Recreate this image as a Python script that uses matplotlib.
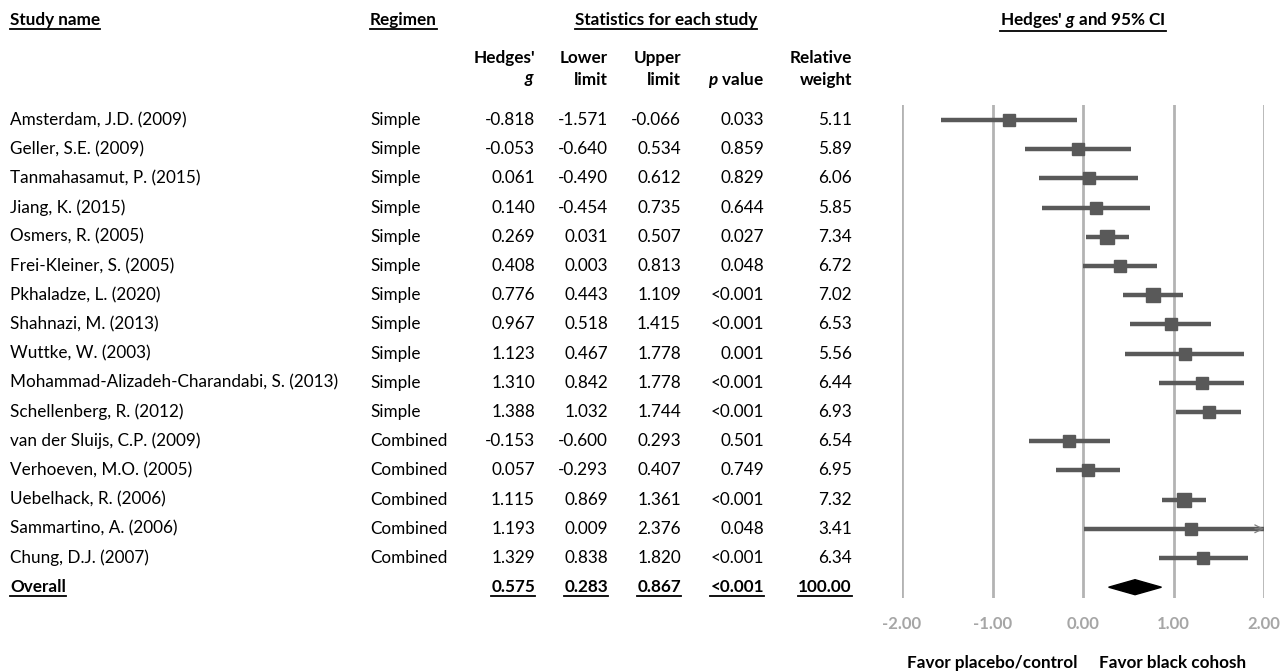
import matplotlib
matplotlib.use("Agg")
import matplotlib.pyplot as plt
from matplotlib.lines import Line2D
from matplotlib.patches import Polygon
import matplotlib.transforms as mtransforms

plt.rcParams['font.family'] = ['Lato', 'DejaVu Sans']
plt.rcParams['mathtext.fontset'] = 'custom'
plt.rcParams['mathtext.it'] = 'Lato:italic:bold'
plt.rcParams['mathtext.rm'] = 'Lato:bold'
plt.rcParams['mathtext.bf'] = 'Lato:bold'

studies = ["Amsterdam, J.D. (2009)", "Geller, S.E. (2009)", "Tanmahasamut, P. (2015)",
           "Jiang, K. (2015)", "Osmers, R. (2005)", "Frei-Kleiner, S. (2005)",
           "Pkhaladze, L. (2020)", "Shahnazi, M. (2013)", "Wuttke, W. (2003)",
           "Mohammad-Alizadeh-Charandabi, S. (2013)", "Schellenberg, R. (2012)",
           "van der Sluijs, C.P. (2009)", "Verhoeven, M.O. (2005)", "Uebelhack, R. (2006)",
           "Sammartino, A. (2006)", "Chung, D.J. (2007)"]
regimen = ["Simple"] * 11 + ["Combined"] * 5
g = [-0.818, -0.053, 0.061, 0.140, 0.269, 0.408, 0.776, 0.967, 1.123, 1.310, 1.388,
     -0.153, 0.057, 1.115, 1.193, 1.329]
lower = [-1.571, -0.640, -0.490, -0.454, 0.031, 0.003, 0.443, 0.518, 0.467, 0.842, 1.032,
         -0.600, -0.293, 0.869, 0.009, 0.838]
upper = [-0.066, 0.534, 0.612, 0.735, 0.507, 0.813, 1.109, 1.415, 1.778, 1.778, 1.744,
         0.293, 0.407, 1.361, 2.376, 1.820]
pval = ["0.033", "0.859", "0.829", "0.644", "0.027", "0.048", "<0.001", "<0.001", "0.001",
        "<0.001", "<0.001", "0.501", "0.749", "<0.001", "0.048", "<0.001"]
weight = [5.11, 5.89, 6.06, 5.85, 7.34, 6.72, 7.02, 6.53, 5.56, 6.44, 6.93,
          6.54, 6.95, 7.32, 3.41, 6.34]
overall_g, overall_lo, overall_hi = 0.575, 0.283, 0.867
overall_p, overall_w = "<0.001", "100.00"
xticks = [-2, -1, 0, 1, 2]
xticklabels = ["-2.00", "-1.00", "0.00", "1.00", "2.00"]

W, H = 1281, 672
fig = plt.figure(figsize=(W / 100, H / 100), dpi=100)

# forest axes
x0, x1 = 902, 1264
ytop, ybot = 105, 598
row0, rowstep = 120, 29.2
ax = fig.add_axes([x0 / W, 1 - ybot / H, (x1 - x0) / W, (ybot - ytop) / H])
n = len(studies)
ax.set_xlim(-2, 2)
ax.set_ylim((ybot - row0) / rowstep, (ytop - row0) / rowstep)
ax.axis('off')
for t in xticks:
    ax.axvline(t, color='#b3b3b3', lw=2, zorder=0)

dark = '#595959'
for i in range(n):
    hi = min(upper[i], 2.0)
    ax.plot([lower[i], hi], [i, i], color=dark, lw=3.2, solid_capstyle='butt', zorder=2)
    size = 9.5 + 0.5 * weight[i]
    ax.plot(g[i], i, marker='s', ms=size * 0.72, color=dark, mec=dark, zorder=3)
    if upper[i] > 2.0:
        ax.annotate('', xy=(2.0, i), xytext=(1.9, i),
                    arrowprops=dict(arrowstyle='->', color='#7f7f7f', lw=0.9,
                                    mutation_scale=14, shrinkA=0, shrinkB=0), zorder=4)

yo = n
dh = 7.5 / rowstep
ax.add_patch(Polygon([[overall_lo, yo], [overall_g, yo - dh], [overall_hi, yo], [overall_g, yo + dh]],
                     closed=True, color='black', zorder=3))

# tick labels
for t, lab in zip(xticks, xticklabels):
    fig.text((x0 + (t + 2) / 4 * (x1 - x0)) / W, 1 - 624 / H, lab, ha='center', va='center',
             fontsize=12, color='#a6a6a6', fontweight='bold')

fs = 12.3
trans = mtransforms.blended_transform_factory(fig.transFigure, ax.transData)

col_name = 10 / W
col_reg = 370 / W
col_g = 535 / W
col_lo = 608 / W
col_hi = 681 / W
col_p = 764 / W
col_w = 852 / W

for i in range(n):
    fig.text(col_name, i, studies[i], transform=trans, ha='left', va='center', fontsize=fs)
    fig.text(col_reg, i, regimen[i], transform=trans, ha='left', va='center', fontsize=fs)
    fig.text(col_g, i, f"{g[i]:.3f}", transform=trans, ha='right', va='center', fontsize=fs)
    fig.text(col_lo, i, f"{lower[i]:.3f}", transform=trans, ha='right', va='center', fontsize=fs)
    fig.text(col_hi, i, f"{upper[i]:.3f}", transform=trans, ha='right', va='center', fontsize=fs)
    fig.text(col_p, i, pval[i], transform=trans, ha='right', va='center', fontsize=fs)
    fig.text(col_w, i, f"{weight[i]:.2f}", transform=trans, ha='right', va='center', fontsize=fs)

underlined = []
underlined.append(fig.text(col_name, n, "Overall", transform=trans, ha='left', va='center', fontsize=fs, fontweight='bold'))
for c, s in [(col_g, f"{overall_g:.3f}"), (col_lo, f"{overall_lo:.3f}"), (col_hi, f"{overall_hi:.3f}"),
             (col_p, overall_p), (col_w, overall_w)]:
    underlined.append(fig.text(c, n, s, transform=trans, ha='right', va='center', fontsize=fs, fontweight='bold'))

# headers
def ftxt(x, y, s, **kw):
    return fig.text(x / W, 1 - y / H, s, fontsize=fs, fontweight='bold', va='center', **kw)

underlined.append(ftxt(10, 20, "Study name", ha='left'))
underlined.append(ftxt(370, 20, "Regimen", ha='left'))
underlined.append(ftxt(666, 20, "Statistics for each study", ha='center'))
underlined.append(ftxt(1083, 20, "Hedges' $g$ and 95% CI", ha='center'))

ftxt(535, 58, "Hedges'", ha='right')
ftxt(535, 80, "$g$", ha='right')
ftxt(608, 58, "Lower", ha='right')
ftxt(608, 80, "limit", ha='right')
ftxt(681, 58, "Upper", ha='right')
ftxt(681, 80, "limit", ha='right')
ftxt(764, 80, "$p$ value", ha='right')
ftxt(852, 58, "Relative", ha='right')
ftxt(852, 80, "weight", ha='right')

ftxt(992, 663, "Favor placebo/control", ha='center')
ftxt(1173, 663, "Favor black cohosh", ha='center')

fig.canvas.draw()
r = fig.canvas.get_renderer()
for t in underlined:
    bb = t.get_window_extent(renderer=r)
    yy = bb.y0 - 0.5
    fig.add_artist(Line2D([bb.x0 / W, bb.x1 / W], [yy / H, yy / H], transform=fig.transFigure,
                          color='black', lw=1.3))

fig.savefig("out.png", dpi=100)
